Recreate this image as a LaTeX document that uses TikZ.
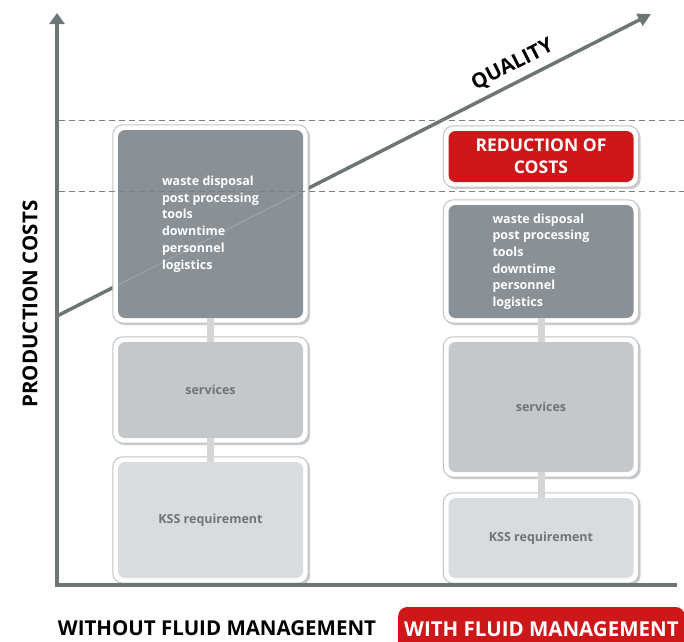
\documentclass[tikz,border=0pt]{standalone}
\usepackage{fontspec}
\setmainfont{Open Sans}
\usetikzlibrary{shadows,backgrounds,fit,arrows.meta}
\definecolor{axisgray}{HTML}{6E7577}
\definecolor{darkbox}{HTML}{899096}
\definecolor{midbox}{HTML}{C5C8CA}
\definecolor{lightbox}{HTML}{D9DCDE}
\definecolor{redbox}{HTML}{CE1719}
\definecolor{boxtext}{HTML}{6F7477}
\definecolor{dashgray}{HTML}{7C8082}
\begin{document}
\begin{tikzpicture}[x=1pt,y=-1pt,
  cbox/.style={rounded corners=7pt, minimum width=185pt, inner sep=0pt,
    font=\bfseries\fontsize{12.5}{16.7}\selectfont, align=left},
  darkstyle/.style={cbox, fill=darkbox, text=white},
  midstyle/.style={cbox, fill=midbox, text=boxtext},
  lightstyle/.style={cbox, fill=lightbox, text=boxtext},
  redstyle/.style={cbox, fill=redbox, text=white, align=center,
    font=\bfseries\fontsize{17.5}{22}\selectfont},
  frame/.style={rounded corners=10pt, fill=white, draw=black!24, line width=1pt,
    inner sep=5pt, drop shadow={shadow xshift=2pt, shadow yshift=-2pt, opacity=0.4}},
  conn/.style={line width=7pt, draw=black!16},
  axis/.style={line width=4pt, draw=axisgray},
  guide/.style={draw=dashgray, line width=1pt, dash pattern=on 6pt off 4pt},
  biglabel/.style={font=\bfseries\fontsize{20.5}{22}\selectfont}
]
\useasboundingbox (0,0) rectangle (684,641);

% coordinates
\coordinate (O) at (57,585);
\coordinate (ytop) at (57,13);
\coordinate (xend) at (677,585);
\coordinate (q0) at (57,316);
\coordinate (q1) at (651,14);
\coordinate (g1a) at (59,120);
\coordinate (g1b) at (684,120);
\coordinate (g2a) at (59,191);
\coordinate (g2b) at (684,191);

% boxes
\node[darkstyle, minimum height=188pt] (ld) at (210.5,224) {waste disposal\\post processing\\tools\\downtime\\personnel\\logistics};
\node[midstyle, minimum height=96pt] (ls) at (210.5,390) {services};
\node[lightstyle, minimum height=116pt] (lk) at (210.5,520) {KSS requirement};

\node[redstyle, minimum height=51pt] (rr) at (541,156.5) {REDUCTION OF\\COSTS};
\node[darkstyle, minimum height=113pt] (rd) at (541,261.5) {waste disposal\\post processing\\tools\\downtime\\personnel\\logistics};
\node[midstyle, minimum height=130pt] (rs) at (541,407) {services};
\node[lightstyle, minimum height=80pt] (rk) at (541,538) {KSS requirement};

\begin{scope}[on background layer]
  \draw[axis, line width=3.5pt, -{Triangle[length=13pt,width=13pt]}] (q0) -- (q1)
    node[pos=0.78, sloped, above=3pt, biglabel] (ql) {QUALITY};
  \node[frame, fit=(ld)] (fld) {};
  \node[frame, fit=(ls)] (fls) {};
  \node[frame, fit=(lk)] (flk) {};
  \node[frame, fit=(rr)] (frr) {};
  \node[frame, fit=(rd)] (frd) {};
  \node[frame, fit=(rs)] (frs) {};
  \node[frame, fit=(rk)] (frk) {};
\end{scope}

% faint quality line seen through the box
\begin{scope}
  \clip (ld.south west) rectangle (ld.north east);
  \draw[white, opacity=0.25, line width=0.6pt] (q0) -- (q1);
\end{scope}

% connectors
\draw[conn] (ld.south) -- (ls.north);
\draw[conn] (ls.south) -- (lk.north);
\draw[conn] (rd.south) -- (rs.north);
\draw[conn] (rs.south) -- (rk.north);

% guides
\draw[guide] (g1a) -- (g1b);
\draw[guide] (g2a) -- (g2b);

% axes
\draw[axis, line cap=rect, -{Triangle[length=11pt,width=15pt]}] (O) -- (ytop);
\draw[axis] (O) -- (xend);

% labels
\node[biglabel, rotate=90] (pc) at (30,304) {PRODUCTION COSTS};
\node[biglabel] (wo) at (217,628) {WITHOUT FLUID MANAGEMENT};
\node[biglabel, fill=redbox, text=white, rounded corners=9pt, anchor=west,
  minimum height=44pt, inner xsep=6pt, text depth=0pt] (wi) at (398,629) {WITH FLUID MANAGEMENT\hspace{20pt}};
\end{tikzpicture}
\end{document}
